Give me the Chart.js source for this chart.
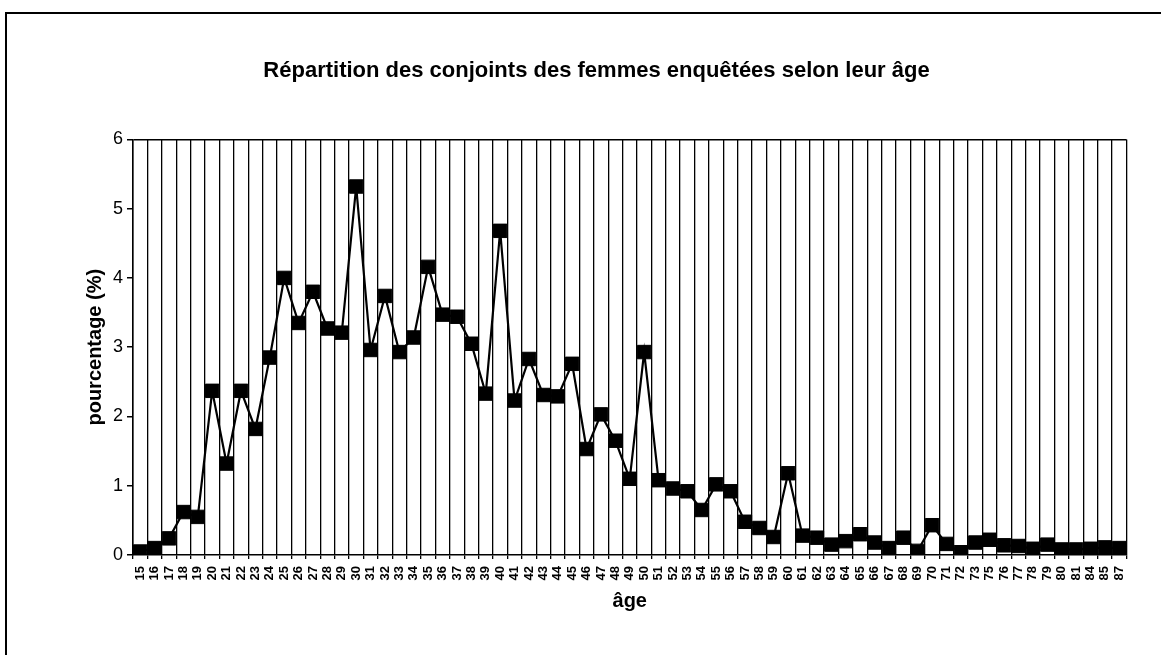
<!DOCTYPE html>
<html>
<head>
<meta charset="utf-8">
<script src="https://cdn.jsdelivr.net/npm/chart.js@4.4.1/dist/chart.umd.min.js"></script>
<style>
    html, body { margin: 0; padding: 0; background: #fff; }
    #wrap { position: relative; width: 1161px; height: 655px; overflow: hidden; }
    #frame { position: absolute; left: 5px; top: 12px; width: 1200px; height: 700px;
             border-top: 2px solid #000; border-left: 2px solid #000; }
    #ageChart { position: absolute; left: 0; top: 0; }
</style>
</head>
<body>
<div id="wrap">
    <div id="frame"></div>
    <canvas id="ageChart" width="1161" height="655"></canvas>
</div>
<script>
// ages shown on the x axis (74, 82, 83 and 86 are absent in the source)
const ages = ['15','16','17','18','19','20','21','22','23','24','25','26','27','28','29',
    '30','31','32','33','34','35','36','37','38','39','40','41','42','43','44',
    '45','46','47','48','49','50','51','52','53','54','55','56','57','58','59',
    '60','61','62','63','64','65','66','67','68','69','70','71','72','73',
    '75','76','77','78','79','80','81','84','85','87'];

// pourcentage (%) for each age
const pourcentage = [0.05, 0.10, 0.24, 0.62, 0.55, 2.37, 1.32, 2.37, 1.82, 2.85, 4.00, 3.35, 3.80, 3.27, 3.21,
    5.32, 2.96, 3.74, 2.93, 3.14, 4.16, 3.47, 3.44, 3.05, 2.33, 4.68, 2.23, 2.83, 2.31, 2.29,
    2.76, 1.53, 2.03, 1.65, 1.10, 2.93, 1.08, 0.96, 0.92, 0.65, 1.02, 0.92, 0.48, 0.39, 0.26,
    1.18, 0.28, 0.25, 0.15, 0.20, 0.30, 0.18, 0.10, 0.25, 0.06, 0.43, 0.16, 0.04, 0.18,
    0.22, 0.14, 0.13, 0.09, 0.15, 0.08, 0.08, 0.09, 0.11, 0.10];

const yTicks = [0, 1, 2, 3, 4, 5, 6];

const fontFamily = "'Liberation Sans', Arial, sans-serif";
Chart.defaults.color = '#000';
Chart.defaults.font.family = fontFamily;

const ctx = document.getElementById('ageChart').getContext('2d');
const chart = new Chart(ctx, {
    type: 'line',
    data: {
        labels: ages,
        datasets: [{
            label: 'pourcentage',
            data: pourcentage,
            borderColor: '#000',
            borderWidth: 2.2,
            tension: 0,
            pointStyle: 'rect',
            pointRadius: 9.5,
            pointBackgroundColor: '#000',
            pointBorderColor: '#000',
            pointBorderWidth: 1
        }]
    },
    options: {
        responsive: false,
        animation: false,
        devicePixelRatio: 1,
        layout: {
            padding: { left: 32, right: 0, top: 0, bottom: 0 }
        },
        plugins: {
            legend: { display: false },
            tooltip: { enabled: false },
            title: {
                display: true,
                text: 'Répartition des conjoints des femmes enquêtées selon leur âge',
                font: { size: 22, weight: 'bold', family: fontFamily },
                padding: { top: 58, bottom: 55 }
            }
        },
        scales: {
            x: {
                offset: true,
                grid: {
                    offset: true,
                    color: '#000',
                    lineWidth: 1.3,
                    tickLength: 4,
                    tickColor: '#000'
                },
                border: { display: true, color: '#000', width: 1.5 },
                ticks: {
                    autoSkip: false,
                    maxRotation: 90,
                    minRotation: 90,
                    padding: 7,
                    font: { size: 13, weight: 'bold' }
                },
                title: {
                    display: true,
                    text: 'âge',
                    font: { size: 20, weight: 'bold' },
                    padding: { top: 0, bottom: 42 }
                },
                afterFit: scale => { scale.height = 100; }
            },
            y: {
                min: 0,
                max: 6,
                afterBuildTicks: scale => {
                    scale.ticks = yTicks.map(v => ({ value: v }));
                },
                grid: {
                    color: c => (c.tick && c.tick.value === 6) ? '#000' : 'rgba(0,0,0,0)',
                    lineWidth: 1.5,
                    tickLength: 6,
                    tickColor: '#000'
                },
                border: { display: true, color: '#000', width: 1.5 },
                ticks: {
                    padding: 4,
                    font: { size: 18 }
                },
                title: {
                    display: true,
                    text: 'pourcentage (%)',
                    font: { size: 20, weight: 'bold' },
                    padding: { top: 51, bottom: 0 }
                },
                afterFit: scale => { scale.width = 101; }
            },
            // empty axis only used to reserve the right margin
            yRight: {
                position: 'right',
                display: true,
                grid: { display: false },
                border: { display: false },
                ticks: { display: false },
                afterFit: scale => { scale.width = 34.5; }
            }
        }
    }
});
</script>
</body>
</html>
